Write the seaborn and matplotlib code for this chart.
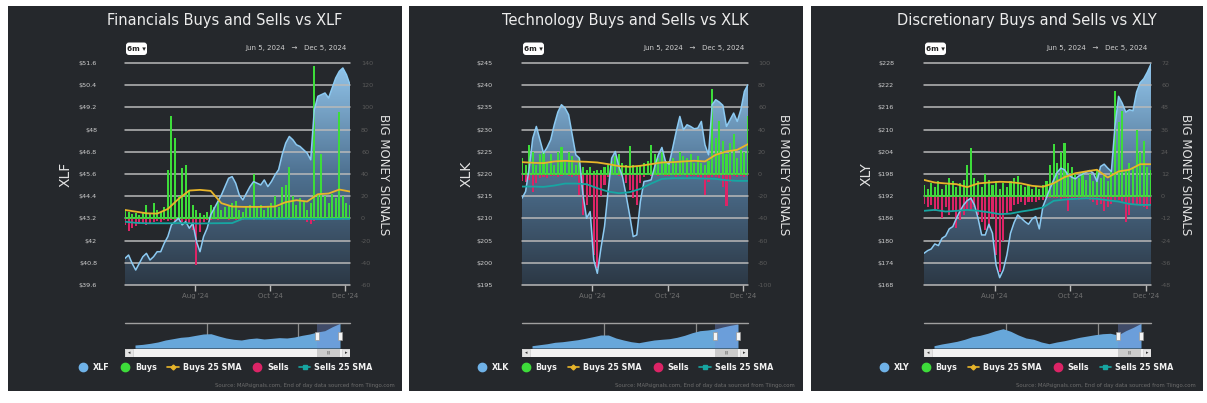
import numpy as np
import pandas as pd
import matplotlib
matplotlib.use('Agg')
import matplotlib.pyplot as plt
import matplotlib.dates as mdates
import matplotlib.transforms as mtransforms
from matplotlib.colors import LinearSegmentedColormap
from matplotlib.patches import Rectangle, FancyBboxPatch
from matplotlib.lines import Line2D
import seaborn as sns

sns.set_theme(style='dark')
plt.rcParams['font.family'] = ['DejaVu Sans']

# 데이터 (스크린샷에서 눈으로 읽은 값)
start, end = '2024-06-05', '2024-12-05'
nav_start = '2020-06-05'

xlf_price = [41.04, 41.22, 40.77, 40.41, 40.77, 41.13, 41.31, 40.95, 41.13, 41.40,
             41.40, 41.86, 42.22, 42.85, 43.03, 43.21, 42.85, 43.03, 42.67, 42.94,
             41.95, 41.40, 42.22, 42.67, 43.39, 43.75, 44.11, 44.47, 44.92, 45.37,
             45.46, 45.10, 44.47, 44.20, 44.56, 44.92, 45.19, 45.10, 45.01, 45.28,
             44.92, 45.19, 45.55, 45.83, 46.64, 47.27, 47.63, 47.45, 47.18, 47.09,
             46.91, 46.73, 46.37, 49.07, 49.80, 49.89, 49.98, 49.71, 50.25, 50.79,
             51.15, 51.33, 50.97, 50.43]
xlf_buys = [8, 6, 4, 5, 3, 6, 12, 5, 14, 8, 6, 10, 44, 92, 72, 20, 45, 48, 25, 12,
            8, 5, 3, 6, 12, 10, 16, 8, 10, 12, 14, 16, 8, 6, 10, 12, 40, 10, 12, 8,
            10, 14, 20, 10, 28, 30, 46, 20, 12, 18, 16, 8, 14, 137, 22, 58, 20, 14, 22, 18,
            96, 20, 14, 12]
xlf_sells = [-6, -11, -9, -7, -5, -4, -6, -5, -3, -2, -3, -1, -2, -1, -2, -1, -3, -2, -5, -10,
             -42, -12, -3, -1, -1, 0, -1, 0, 0, -1, 0, -1, -2, -1, 0, 0, -1, 0, 0, -1,
             0, 0, -1, 0, 0, 0, -1, 0, 0, -1, -1, -3, -5, -2, 0, -1, 0, 0, -1, 0,
             0, -1, 0, 0]
xlf_buys_sma = [7.6, 6.1, 4.6, 4.3, 8.5, 17.6, 25.1, 25.7, 24.8, 13.7, 10.7, 10.4, 10.4,
                10.4, 10.7, 14.6, 16.4, 15.2, 21.8, 22.4, 26.0, 24.2]
xlf_sells_sma = [-3.0, -4.0, -4.4, -4.4, -4.4, -4.3, -4.4, -4.6, -4.4, -4.3, -4.2, -0.3,
                 -0.3, -0.3, -0.3, -0.3, -0.4, -0.5, -0.6, -0.5, -0.4, -0.4]
xlf_nav = [24.0, 24.8, 26.1, 27.75, 30.25, 31.9, 33.6, 34.4, 36.1, 37.75, 38.1, 35.25, 32.75, 31.1,
           30.25, 31.9, 32.75, 31.5, 32.3, 33.2, 32.75, 34.0, 36.1, 37.75, 40.25, 41.9, 46.9, 51.1]
xlf_price_ticks = [39.6, 40.8, 42.0, 43.2, 44.4, 45.6, 46.8, 48.0, 49.2, 50.4, 51.6]
xlf_signal_ticks = [-60, -40, -20, 0, 20, 40, 60, 80, 100, 120, 140]

xlk_price = [214.55, 216.05, 221.32, 228.08, 230.71, 227.71, 224.70, 225.98, 227.71, 231.09,
             233.95, 235.60, 234.85, 233.35, 228.83, 224.32, 223.57, 215.30, 210.04, 211.54,
             200.64, 197.63, 203.27, 208.16, 216.05, 223.57, 225.07, 221.69, 219.44, 215.30,
             210.79, 205.90, 206.28, 213.80, 218.31, 218.46, 218.68, 221.69, 224.32, 225.98,
             222.82, 222.22, 225.83, 229.59, 232.97, 229.96, 231.09, 230.71, 230.19, 230.34,
             231.84, 226.58, 224.32, 235.60, 236.73, 236.20, 235.45, 230.71, 232.22, 233.72,
             231.84, 234.47, 238.61, 240.11]
xlk_buys = [14, 8, 26, 20, 8, 18, 20, 10, 18, 8, 20, 24, 12, 20, 16, 8, 14, 6, 4, 6,
            3, 4, 4, 6, 8, 12, 16, 18, 10, 8, 25, 8, 6, 8, 10, 12, 26, 18, 14, 20,
            12, 12, 14, 10, 20, 16, 14, 18, 10, 16, 10, 8, 12, 77, 32, 48, 30, 18, 28, 36,
            14, 22, 20, 52]
xlk_sells = [-6, -7, -5, -16, -8, -4, -3, -4, -2, -2, -3, -2, -1, -2, -3, -2, -19, -37, -28, -20,
             -73, -85, -20, -10, -3, -1, -1, -2, -3, -8, -14, -22, -28, -8, -3, -1, -2, -1, -2, -1,
             -2, -2, -1, -3, -2, -1, -4, -2, -2, -3, -4, -19, -7, -3, -3, -4, -12, -29, -7, -2,
             -3, -2, -3, -2]
xlk_buys_sma = [10.7, 10.1, 9.8, 11.3, 11.9, 11.3, 11.0, 10.4, 8.9, 7.1, 6.5, 7.4, 8.9, 10.4,
                10.7, 11.3, 11.9, 11.3, 17.3, 20.3, 21.8, 26.9]
xlk_sells_sma = [-11.3, -11.3, -11.6, -10.4, -8.6, -8.6, -9.2, -12.8, -15.8, -17.3, -16.4, -13.4,
                 -8.6, -4.4, -3.8, -3.8, -3.8, -4.1, -4.4, -5.6, -6.2, -6.2]
xlk_nav = [104.9, 110.9, 116.8, 125.2, 128.7, 134.7, 140.6, 149.0, 158.5, 168.6, 168.6, 150.75,
           138.85, 128.7, 122.8, 131.1, 138.85, 143.0, 146.6, 154.9, 166.8, 182.3, 194.2, 198.35,
           204.3, 216.2, 226.3, 234.05]
xlk_price_ticks = [195, 200, 205, 210, 215, 220, 225, 230, 235, 240, 245]
xlk_signal_ticks = [-100, -80, -60, -40, -20, 0, 20, 40, 60, 80, 100]

xly_price = [176.57, 177.29, 177.74, 179.10, 178.65, 180.63, 181.26, 183.16, 183.79, 186.05,
             188.03, 189.65, 190.83, 191.46, 189.65, 186.05, 181.53, 181.53, 184.42, 181.98,
             173.41, 169.98, 172.06, 176.12, 181.98, 184.87, 186.95, 186.05, 185.14, 184.42,
             185.86, 186.50, 183.16, 189.20, 191.64, 194.17, 196.42, 198.50, 199.58, 199.13,
             197.78, 197.14, 196.69, 197.50, 197.95, 198.50, 198.95, 198.23, 195.97, 200.03,
             200.66, 199.58, 198.68, 210.86, 218.98, 217.17, 214.74, 215.37, 215.10, 220.15,
             222.68, 223.76, 225.56, 227.73]
xly_buys = [6, 4, 7, 5, 8, 4, 6, 10, 8, 5, 7, 9, 17, 26, 10, 8, 5, 12, 9, 6,
            8, 4, 7, 5, 8, 10, 11, 6, 5, 6, 4, 5, 4, 6, 8, 17, 28, 18, 24, 29,
            18, 16, 12, 10, 13, 9, 12, 8, 14, 10, 12, 8, 14, 57, 40, 46, 14, 18, 16, 36,
            24, 30, 16, 14]
xly_sells = [-4, -6, -5, -8, -7, -12, -6, -10, -8, -17, -13, -10, -7, -8, -6, -10, -14, -18, -17, -11,
             -32, -41, -24, -9, -8, -5, -4, -3, -5, -3, -3, -3, -2, -2, -1, -1, -1, -1, -2, -1,
             -8, -2, -1, -2, -1, -1, -2, -3, -5, -4, -8, -6, -4, -2, -2, -3, -14, -10, -4, -5,
             -5, -6, -7, -5]
xly_buys_sma = [8.8, 7.4, 6.9, 6.5, 4.9, 6.9, 7.4, 7.8, 7.6, 6.9, 5.6, 5.1, 7.0, 10.3, 12.4,
                13.4, 14.3, 10.1, 13.4, 14.3, 17.3, 17.3]
xly_sells_sma = [-7.9, -7.4, -8.3, -7.9, -7.4, -7.9, -8.7, -9.7, -9.4, -8.3, -7.4, -6.1, -2.5,
                 -1.8, -1.4, -1.1, -1.4, -2.2, -2.9, -4.2, -4.7, -4.7]
xly_nav = [134.9, 141.9, 147.2, 153.0, 161.2, 171.8, 177.6, 185.8, 196.4, 204.6, 194.0, 178.8,
           166.5, 161.2, 150.1, 143.1, 150.1, 155.4, 162.4, 169.4, 174.7, 180.0, 184.1, 185.8,
           178.8, 196.4, 210.4, 226.8]
xly_price_ticks = [168, 174, 180, 186, 192, 198, 204, 210, 216, 222, 228]
xly_signal_ticks = [-48, -36, -24, -12, 0, 12, 24, 36, 48, 60, 72]

month_ticks = ['2024-08-01', '2024-10-01', '2024-12-01']
month_labels = ["Aug '24", "Oct '24", "Dec '24"]

# 색상
BG = '#25282c'
GRID = '#b9b9b9'
LINE = '#8ccaf2'
GREEN = '#3ddc3a'
PINK = '#dc2466'
YEL = '#e8b52a'
TEAL = '#17a6a2'
NAV = '#67a7da'
AREA_CMAP = LinearSegmentedColormap.from_list('area', ['#2c3845', '#4e7191', '#93c6ec'])

W, H = 1207, 403
pix = mtransforms.IdentityTransform()


def px_rect(x0, y0, x1, y1):
    return [x0 / W, 1 - y1 / H, (x1 - x0) / W, (y1 - y0) / H]


panels = [
    dict(ticker='XLF', title='Financials Buys and Sells vs XLF',
         price=xlf_price, buys=xlf_buys, sells=xlf_sells, bsma=xlf_buys_sma, ssma=xlf_sells_sma,
         nav=xlf_nav, pticks=xlf_price_ticks, sticks=xlf_signal_ticks, nav_lim=(20.25, 51.5),
         box=(8, 402), plot=(125, 350), ylab_x=66, sig_x=383, lab_l=97, lab_r=361,
         title_x=225, date_x=347, legend_x=225, src_x=395),
    dict(ticker='XLK', title='Technology Buys and Sells vs XLK',
         price=xlk_price, buys=xlk_buys, sells=xlk_sells, bsma=xlk_buys_sma, ssma=xlk_sells_sma,
         nav=xlk_nav, pticks=xlk_price_ticks, sticks=xlk_signal_ticks, nav_lim=(91.25, 240),
         box=(409, 803), plot=(522, 748), ylab_x=467, sig_x=783, lab_l=493, lab_r=758,
         title_x=625, date_x=745, legend_x=625, src_x=795),
    dict(ticker='XLY', title='Discretionary Buys and Sells vs XLY',
         price=xly_price, buys=xly_buys, sells=xly_sells, bsma=xly_buys_sma, ssma=xly_sells_sma,
         nav=xly_nav, pticks=xly_price_ticks, sticks=xly_signal_ticks, nav_lim=(125.5, 228),
         box=(811, 1203), plot=(924, 1151), ylab_x=867, sig_x=1185, lab_l=894, lab_r=1161,
         title_x=1027, date_x=1148, legend_x=1026, src_x=1196),
]

fig = plt.figure(figsize=(W / 100, H / 100), dpi=100, facecolor='white')
t0, t1 = pd.Timestamp(start), pd.Timestamp(end)


def off(ax):
    for s in ax.spines.values():
        s.set_visible(False)


for p in panels:
    bx0, bx1 = p['box']
    fig.add_artist(Rectangle((bx0, H - 391), bx1 - bx0, 385, transform=pix,
                             facecolor=BG, edgecolor='none', zorder=-5))
    L, R = p['plot']
    lo, hi = p['pticks'][0], p['pticks'][-1]
    slo, shi = p['sticks'][0], p['sticks'][-1]

    # 주가 영역 (그라데이션)
    ax_p = fig.add_axes(px_rect(L, 63, R, 285))
    ax_p.set_facecolor(BG)
    ax_p.set_xlim(t0, t1)
    d = pd.date_range(start, end, periods=len(p['price']))
    img = ax_p.imshow(np.linspace(0, 1, 256).reshape(-1, 1),
                      extent=[mdates.date2num(t0), mdates.date2num(t1), lo, hi],
                      origin='lower', aspect='auto', cmap=AREA_CMAP, zorder=1)
    poly = ax_p.fill_between(d, p['price'], lo, facecolor='none', edgecolor='none')
    img.set_clip_path(poly.get_paths()[0], transform=ax_p.transData)
    for t in p['pticks']:
        ax_p.axhline(t, color=GRID, lw=1.1, zorder=2, clip_on=False)
    ax_p.set_xlim(t0, t1)
    ax_p.set_ylim(lo, hi)
    ax_p.set_yticks(p['pticks'])
    ax_p.set_yticklabels([f'${t:g}' for t in p['pticks']])
    ax_p.tick_params(axis='y', length=0, labelsize=4.6, labelcolor='#d0d0d0',
                     pad=(L - p['lab_l']) * 0.72)
    ax_p.set_xticks(pd.to_datetime(month_ticks))
    ax_p.set_xticklabels(month_labels)
    ax_p.tick_params(axis='x', bottom=True, length=4, width=1, color=GRID, direction='out',
                     labelsize=5, labelcolor='#707070', pad=1.5)
    ax_p.grid(False)
    off(ax_p)

    # 매수/매도 막대
    ax_s = ax_p.twinx()
    db = pd.date_range(start, end, periods=len(p['buys']))
    dsl = pd.date_range(start, end, periods=len(p['sells']))
    ax_s.bar(db, p['buys'], width=1.7, color=GREEN, linewidth=0, zorder=2)
    ax_s.bar(dsl, p['sells'], width=1.7, color=PINK, linewidth=0, zorder=2)
    ax_s.axhline(0, color=GREEN, lw=1.2, zorder=3)
    ax_s.set_ylim(slo, shi)
    ax_s.set_yticks(p['sticks'])
    ax_s.set_yticklabels([str(t) for t in p['sticks']])
    ax_s.tick_params(axis='y', length=0, labelsize=4.6, labelcolor='#5a5a5a',
                     pad=(p['lab_r'] - R) * 0.72)
    ax_s.grid(False)
    off(ax_s)

    # 주가 선
    ax_l = ax_p.twinx()
    sns.lineplot(x=d, y=p['price'], ax=ax_l, color=LINE, linewidth=1.1)
    ax_l.set_ylim(lo, hi)
    ax_l.set_yticks([])
    ax_l.set_ylabel('')
    ax_l.grid(False)
    off(ax_l)

    # 25일 이동평균
    ax_m = ax_p.twinx()
    dm = pd.date_range(start, end, periods=len(p['bsma']))
    sns.lineplot(x=dm, y=p['bsma'], ax=ax_m, color=YEL, linewidth=1.3)
    sns.lineplot(x=dm, y=p['ssma'], ax=ax_m, color=TEAL, linewidth=1.3)
    ax_m.set_ylim(slo, shi)
    ax_m.set_yticks([])
    ax_m.set_ylabel('')
    ax_m.grid(False)
    off(ax_m)
    ax_p.set_xlim(t0, t1)

    fig.text(p['ylab_x'] / W, 1 - 174 / H, p['ticker'], rotation=90, ha='center', va='center',
             size=10, color='#e2e2e2')
    fig.text(p['sig_x'] / W, 1 - 174.5 / H, 'BIG MONEY SIGNALS', rotation=270, ha='center',
             va='center', size=8.5, color='#e2e2e2')
    fig.text(p['title_x'] / W, 1 - 20 / H, p['title'], ha='center', va='center',
             size=10.5, color='#ececec')

    # 6m 버튼 + 기간
    fig.add_artist(FancyBboxPatch((L + 1, H - 55), 21, 12.5, boxstyle='round,pad=0,rounding_size=3',
                                  transform=pix, facecolor='white', edgecolor='none'))
    fig.text((L + 11.5) / W, 1 - 48.7 / H, '6m \u25be', ha='center', va='center', size=5.2,
             weight='bold', color='#222222')
    fig.text(p['date_x'] / W, 1 - 48 / H, 'Jun 5, 2024   \u2192   Dec 5, 2024', ha='right',
             va='center', size=5, color='#cfcfcf')

    # 네비게이터
    ax_n = fig.add_axes(px_rect(L, 323, R, 348))
    ax_n.set_facecolor(BG)
    dn = pd.date_range(nav_start, end, periods=len(p['nav']))
    span = t1 - pd.Timestamp(nav_start)
    pad = span * 10 / (R - L - 20)
    ax_n.set_xlim(pd.Timestamp(nav_start) - pad, t1 + pad)
    ax_n.fill_between(dn, p['nav'], p['nav_lim'][0], color=NAV, linewidth=0, zorder=2)
    for yr in ['2022-01-01', '2024-01-01']:
        ax_n.axvline(pd.Timestamp(yr), color='#8a8a8a', lw=0.9, zorder=1)
    ax_n.axvspan(t0, t1, color=(0.45, 0.56, 0.86, 0.35), lw=0, zorder=3)
    ax_n.axhline(p['nav_lim'][1], color='#a0a0a0', lw=1, zorder=4, clip_on=False)
    ax_n.set_ylim(p['nav_lim'])
    hw = (span / pd.Timedelta(days=1)) / (R - L - 20) * 1.8
    bt = mtransforms.blended_transform_factory(ax_n.transData, ax_n.transAxes)
    for t in [t0, t1]:
        ax_n.add_patch(Rectangle((mdates.date2num(t) - hw, 0.32), 2 * hw, 0.32, transform=bt,
                                 facecolor='#f4f4f4', edgecolor='#999999', lw=0.5, zorder=5))
    ax_n.set_xticks([])
    ax_n.set_yticks([])
    ax_n.grid(False)
    off(ax_n)

    # 스크롤바
    ax_b = fig.add_axes(px_rect(L, 349, R, 357))
    ax_b.set_xlim(pd.Timestamp(nav_start) - pad, t1 + pad)
    ax_b.set_ylim(0, 1)
    ax_b.axis('off')
    ax_b.add_patch(Rectangle((0, 0), 1, 1, transform=ax_b.transAxes, facecolor='#f2f2f2', lw=0))
    ax_b.axvspan(t0, t1, color='#cccccc', lw=0)
    bw = 8 / (R - L)
    for xb, arrow in [(0, '\u25c2'), (1 - bw, '\u25b8')]:
        ax_b.add_patch(Rectangle((xb, 0), bw, 1, transform=ax_b.transAxes,
                                 facecolor='#e4e4e4', edgecolor='#cccccc', lw=0.5))
        ax_b.text(xb + bw / 2, 0.5, arrow, transform=ax_b.transAxes, ha='center', va='center',
                  size=3.5, color='#333333')
    ax_b.text(t0 + (t1 - t0) / 2, 0.5, '|||', ha='center', va='center', size=3, color='#444444')

    # 범례
    handles = [Line2D([], [], ls='none', marker='o', ms=6, color='#6fb2e8'),
               Line2D([], [], ls='none', marker='o', ms=6, color=GREEN),
               Line2D([], [], color=YEL, lw=1.2, marker='D', ms=2.5),
               Line2D([], [], ls='none', marker='o', ms=6, color=PINK),
               Line2D([], [], color=TEAL, lw=1.2, marker='s', ms=3)]
    labels = [p['ticker'], 'Buys', 'Buys 25 SMA', 'Sells', 'Sells 25 SMA']
    fig.legend(handles, labels, loc='center', bbox_to_anchor=(p['legend_x'] / W, 1 - 367 / H),
               ncol=5, frameon=False, prop=dict(weight='bold', size=5.8), labelcolor='#f2f2f2',
               handlelength=1.4, handletextpad=0.5, columnspacing=1.3, borderpad=0)

    fig.text(p['src_x'] / W, 1 - 386 / H,
             'Source: MAPsignals.com, End of day data sourced from Tiingo.com',
             ha='right', va='center', size=3.9, color='#6c6c6c')

fig.savefig('out.png', dpi=100, facecolor='white')
